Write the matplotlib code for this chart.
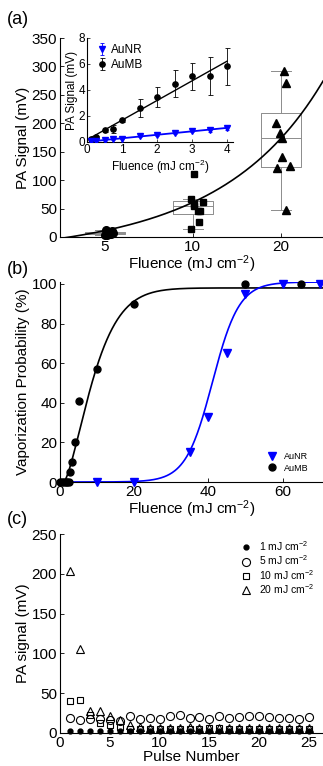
import numpy as np
import matplotlib
matplotlib.use("Agg")
import matplotlib.pyplot as plt

plt.rcParams["font.family"] = ["Liberation Sans", "DejaVu Sans"]
plt.rcParams["mathtext.fontset"] = "custom"
plt.rcParams["mathtext.rm"] = "Liberation Sans"
plt.rcParams["mathtext.default"] = "regular"
plt.rcParams["xtick.direction"] = "in"
plt.rcParams["ytick.direction"] = "in"
plt.rcParams["axes.linewidth"] = 0.8

# ---- (a) PA signal vs fluence, box plots ----
box_fluence = [5, 10, 20]
pa_5 = [3, 4, 5, 6, 7, 8, 9, 10, 12]
pa_10 = [110, 67, 62, 58, 55, 45, 45, 27, 14]
pa_20 = [292, 271, 200, 183, 174, 140, 124, 121, 47]
pa_fit_coef = [0.0867, 8.6, -34.0]   # quadratic fit

# inset: low fluence
ins_fluence = [0.1, 0.25, 0.5, 0.75, 1, 1.5, 2, 2.5, 3, 3.5, 4]
ins_aumb = [0.26, 0.38, 0.9, 1.0, 1.67, 2.6, 3.46, 4.5, 5.05, 5.08, 5.82]
ins_aumb_err = [0.1, 0.1, 0.1, 0.3, 0.1, 0.68, 0.75, 1.05, 1.05, 1.45, 1.42]
ins_aunr = [0.05, 0.1, 0.15, 0.2, 0.26, 0.44, 0.57, 0.7, 0.85, 0.9, 1.1]
ins_aunr_err = [0.05, 0.05, 0.05, 0.05, 0.05, 0.05, 0.08, 0.08, 0.1, 0.15, 0.15]

# ---- (b) vaporization probability ----
b_fluence_mb = [0, 0.5, 1, 1.5, 2, 2.5, 2.7, 3.2, 4, 5, 10, 20, 50, 65]
b_prob_mb = [0, 0, 0, 0, 0, 0, 5, 10, 20, 41, 57, 90, 100, 100]
b_fluence_nr = [10, 20, 35, 40, 45, 50, 60, 70]
b_prob_nr = [0, 0, 15, 33, 65, 95, 100, 100]
# fitted model parameters
mb_fit = dict(amp=98.0, x0=1.0, lam=9.6, k=1.45)   # Weibull-type CDF
nr_fit = dict(amp=101.0, xmid=41.1, slope=3.6)     # logistic

# ---- (c) PA signal vs pulse number ----
pulses = list(range(1, 26))
sig_1 = [3] * 25
sig_5 = [19, 16, 17, 18, 16, 15, 21, 18, 19, 17, 21, 23, 19, 20, 18, 21, 19, 20, 21, 21, 20, 19, 19, 18, 20]
sig_10 = [40, 41, 22, 12, 10, 8, 5, 5, 5, 5, 5, 5, 5, 5, 6, 6, 5, 5, 5, 5, 5, 5, 5, 5, 5]
sig_20 = [203, 105, 28, 28, 21, 16, 10, 7, 6, 6, 6, 6, 7, 6, 6, 6, 6, 6, 6, 6, 6, 6, 6, 6, 6]
legend_c = ["1 mJ cm$^{-2}$", "5 mJ cm$^{-2}$", "10 mJ cm$^{-2}$", "20 mJ cm$^{-2}$"]

W, H = 323, 766
fig = plt.figure(figsize=(W / 100, H / 100), dpi=100)
FS = 11


def px_axes(left, top, right, bottom):
    return fig.add_axes([left / W, 1 - bottom / H, (right - left) / W, (bottom - top) / H])


def box_off(ax):
    ax.spines["top"].set_visible(False)
    ax.spines["right"].set_visible(False)


def hazen_stats(vals):
    v = np.asarray(vals, float)
    q1, med, q3 = np.percentile(v, [25, 50, 75], method="hazen")
    iqr = q3 - q1
    inside = v[(v >= q1 - 1.5 * iqr) & (v <= q3 + 1.5 * iqr)]
    fl = v[(v < q1 - 1.5 * iqr) | (v > q3 + 1.5 * iqr)]
    return dict(med=med, q1=q1, q3=q3, whislo=inside.min(), whishi=inside.max(), fliers=fl)


# ================= (a) =================
ax = px_axes(60, 38, 323, 237)
box_off(ax)
pos = np.log10(box_fluence)
px_per_dec = 88 / np.log10(2)
bw = 40 / px_per_dec
stats = [hazen_stats(g) for g in (pa_5, pa_10, pa_20)]
ax.bxp(stats, positions=pos, widths=bw, showfliers=True,
       boxprops=dict(color="#8c8c8c", lw=0.7), medianprops=dict(color="#8c8c8c", lw=0.7),
       whiskerprops=dict(color="#8c8c8c", lw=0.7), capprops=dict(color="#8c8c8c", lw=0.7),
       flierprops=dict(marker="+", markeredgecolor="red", markersize=3, lw=0.5),
       manage_ticks=False)

jit_5 = [0, 2, 4, 6, 8, 3, 5, 7, 1]
jit_10 = [1, -1.3, 10, 1, 1, 5, 7, 6, -1.3]
jit_20 = [3.5, 5, -5, -1, 1, 1, 9.5, -4, 5]
for p, vals, jit, mk, ms in ((pos[0], pa_5, jit_5, "o", 5.5),
                             (pos[1], pa_10, jit_10, "s", 4.5),
                             (pos[2], pa_20, jit_20, "^", 5.5)):
    ax.plot(p + np.array(jit) / px_per_dec, vals, ls="none", marker=mk, ms=ms,
            color="black", zorder=4, clip_on=False)

xlo = pos[0] - 44.5 / px_per_dec
xhi = pos[0] + (323 - 104.5) / px_per_dec
xf = np.linspace(10 ** xlo, 10 ** xhi, 200)
ax.plot(np.log10(xf), np.polyval(pa_fit_coef, xf), color="black", lw=1.2, zorder=3)
ax.set_xlim(xlo, xhi)
ax.set_ylim(0, 350)
ax.set_xticks(pos)
ax.set_xticklabels([str(f) for f in box_fluence])
ax.set_yticks(range(0, 351, 50))
ax.tick_params(labelsize=FS, length=3, width=0.6, pad=2)
ax.set_xlabel("Fluence (mJ cm$^{-2}$)", fontsize=FS, labelpad=0)
ax.set_ylabel("PA Signal (mV)", fontsize=FS, labelpad=1)
fig.text(7 / W, 1 - 24 / H, "(a)", fontsize=13)

# inset
ai = px_axes(87, 38, 233, 142)
box_off(ai)
ai.patch.set_alpha(0)
ai.errorbar(ins_fluence, ins_aumb, yerr=ins_aumb_err, fmt="o", ms=3.8, color="black",
            ecolor="black", elinewidth=0.6, capsize=1.8, capthick=0.6, label="AuMB", zorder=3)
ai.errorbar(ins_fluence, ins_aunr, yerr=ins_aunr_err, fmt="v", ms=3.8, color="#0000ff",
            ecolor="#0000ff", elinewidth=0.6, capsize=1.5, capthick=0.6, label="AuNR", zorder=3)
cm = np.polyfit(ins_fluence, ins_aumb, 1)
cn = np.polyfit(ins_fluence, ins_aunr, 1)
xl = np.array([min(ins_fluence), max(ins_fluence)])
ai.plot(xl, np.polyval(cm, xl), color="black", lw=1.0)
ai.plot(xl, np.polyval(cn, xl), color="#0000ff", lw=1.3)
ai.set_xlim(0, 4.17)
ai.set_ylim(0, 8)
ai.set_xticks(range(0, 5))
ai.set_yticks(range(0, 9, 2))
ai.tick_params(labelsize=8.5, length=2, width=0.5, pad=1.5)
ai.set_xlabel("Fluence (mJ cm$^{-2}$)", fontsize=8.5, labelpad=1)
ai.set_ylabel("PA Signal (mV)", fontsize=8.5, labelpad=0)
h, l = ai.get_legend_handles_labels()
ai.legend(h[::-1], l[::-1], loc="upper left", frameon=False, fontsize=8.5, handlelength=0.8,
          handletextpad=0.4, borderaxespad=0.1, labelspacing=0.25, bbox_to_anchor=(0.03, 1.0))

# ================= (b) =================
bx = px_axes(60, 282, 323, 482)
box_off(bx)
xs = np.linspace(0, 71, 400)
u = np.clip(xs - mb_fit["x0"], 0, None) / mb_fit["lam"]
bx.plot(xs, mb_fit["amp"] * (1 - np.exp(-u ** mb_fit["k"])), color="black", lw=1.2)
bx.plot(xs, nr_fit["amp"] / (1 + np.exp(-(xs - nr_fit["xmid"]) / nr_fit["slope"])),
        color="#0000ff", lw=1.2)
bx.plot(b_fluence_nr, b_prob_nr, "v", color="#0000ff", ms=5.5, clip_on=False, label="AuNR", zorder=4)
bx.plot(b_fluence_mb, b_prob_mb, "o", color="black", ms=5, clip_on=False, label="AuMB", zorder=4)
bx.set_xlim(0, 70.9)
bx.set_ylim(0, 101)
bx.set_xticks([0, 20, 40, 60])
bx.set_yticks(range(0, 101, 20))
bx.tick_params(labelsize=FS, length=3, width=0.6, pad=2)
bx.set_xlabel("Fluence (mJ cm$^{-2}$)", fontsize=FS, labelpad=0)
bx.set_ylabel("Vaporization Probability (%)", fontsize=FS, labelpad=1)
bx.legend(loc="lower right", frameon=False, fontsize=6.5, handlelength=1.0, handletextpad=0.8,
          labelspacing=0.25, borderaxespad=0.2, bbox_to_anchor=(0.965, 0.02))
fig.text(7 / W, 1 - 274 / H, "(b)", fontsize=13)

# ================= (c) =================
cx = px_axes(60, 534, 323, 733)
box_off(cx)
cx.plot(pulses, sig_1, "o", color="black", ms=3.5, clip_on=False, label=legend_c[0])
cx.plot(pulses, sig_5, "o", mfc="none", mec="black", mew=0.8, ms=5.8, clip_on=False, label=legend_c[1])
cx.plot(pulses, sig_10, "s", mfc="none", mec="black", mew=0.8, ms=4.8, clip_on=False, label=legend_c[2])
cx.plot(pulses, sig_20, "^", mfc="none", mec="black", mew=0.8, ms=5.8, clip_on=False, label=legend_c[3])
cx.set_xlim(0, 26.4)
cx.set_ylim(0, 250)
cx.set_xticks([0, 5, 10, 15, 20, 25])
cx.set_yticks(range(0, 251, 50))
cx.tick_params(labelsize=FS, length=3, width=0.6, pad=2)
cx.set_xlabel("Pulse Number", fontsize=FS, labelpad=0)
cx.set_ylabel("PA signal (mV)", fontsize=FS, labelpad=1)
cx.legend(loc="upper right", frameon=False, fontsize=7.5, handlelength=1.0, handletextpad=0.7,
          labelspacing=0.05, borderaxespad=0.1, bbox_to_anchor=(0.985, 1.0))
fig.text(7 / W, 1 - 524 / H, "(c)", fontsize=13)

fig.savefig("out.png", dpi=100)
